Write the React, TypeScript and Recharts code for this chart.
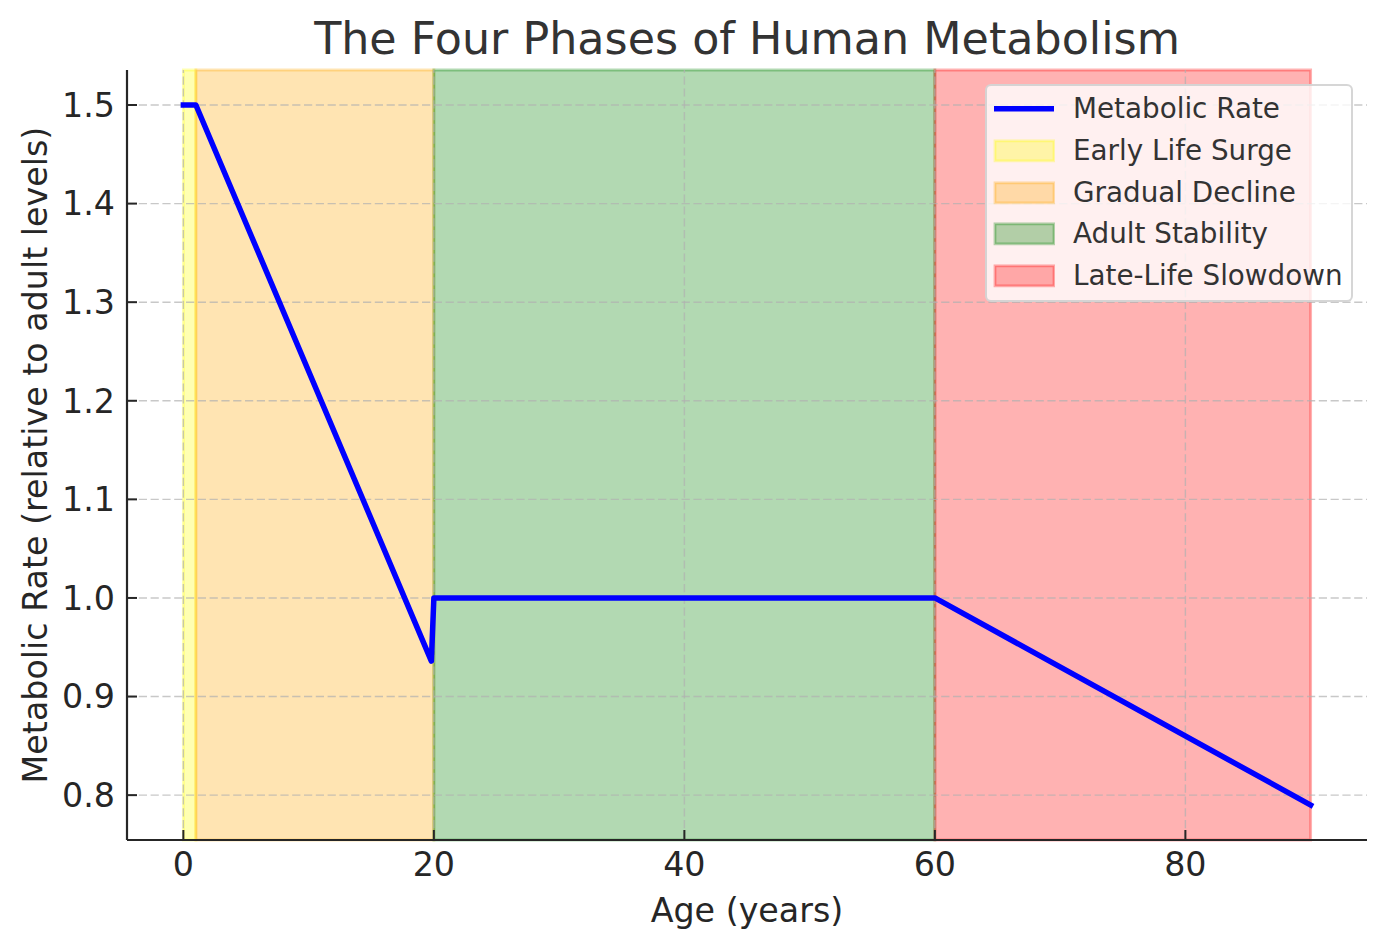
import {
  ComposedChart,
  Line,
  XAxis,
  YAxis,
  ReferenceArea,
  ReferenceLine,
  Legend,
} from 'recharts'

const AGES = [0, 1, 19.8, 20, 60, 90]
const RATES = [1.5, 1.5, 0.936, 1.0, 1.0, 0.79]

const PHASE_NAMES = ['Early Life Surge', 'Gradual Decline', 'Adult Stability', 'Late-Life Slowdown']
const PHASE_START = [0, 1, 20, 60]
const PHASE_END = [1, 20, 60, 90]
const PHASE_COLORS = ['#ffff00', '#ffa500', '#008000', '#ff0000']

const X_TICKS = [0, 20, 40, 60, 80]
const Y_TICKS = [0.8, 0.9, 1.0, 1.1, 1.2, 1.3, 1.4, 1.5]

const data = AGES.map((age, i) => ({ age, rate: RATES[i] }))

const TEXT = '#262626'
const FONT = '"DejaVu Sans", sans-serif'

const gridProps = {
  stroke: '#b0b0b0',
  strokeOpacity: 0.7,
  strokeWidth: 1.4,
  strokeDasharray: '8.2 3.6',
}

function LegendBox() {
  // row i centred 23 + i*41.7 px below the box top
  const rowTop = (i: number) => 23 + i * 41.7 - 20.85
  return (
    <div
      style={{
        position: 'relative',
        width: 368,
        height: 218,
        boxSizing: 'border-box',
        background: 'rgba(255,255,255,0.8)',
        border: '2px solid rgba(204,204,204,0.8)',
        borderRadius: 6,
        fontFamily: FONT,
        fontSize: 27.8,
        color: '#333',
      }}
    >
      <div style={{ position: 'absolute', left: 6, top: rowTop(0), height: 41.7, display: 'flex', alignItems: 'center' }}>
        <svg width={62} height={41.7}>
          <line x1={1} x2={61} y1={20.85} y2={20.85} stroke="#0000ff" strokeWidth={5.5} />
        </svg>
        <span style={{ marginLeft: 18, lineHeight: '41.7px' }}>Metabolic Rate</span>
      </div>
      {PHASE_NAMES.map((name, i) => (
        <div
          key={name}
          style={{ position: 'absolute', left: 6, top: rowTop(i + 1), height: 41.7, display: 'flex', alignItems: 'center' }}
        >
          <svg width={62} height={41.7}>
            <rect
              x={2}
              y={10.85}
              width={59}
              height={20}
              fill={PHASE_COLORS[i]}
              fillOpacity={0.3}
              stroke={PHASE_COLORS[i]}
              strokeOpacity={0.3}
              strokeWidth={2.8}
            />
          </svg>
          <span style={{ marginLeft: 18, lineHeight: '41.7px' }}>{name}</span>
        </div>
      ))}
    </div>
  )
}

export default function App() {
  return (
    <div style={{ fontFamily: FONT, width: 1371, height: 931 }}>
      <ComposedChart
        width={1371}
        height={931}
        data={data}
        margin={{ top: 62, right: 12, bottom: 0, left: 0 }}
      >
        <XAxis
          dataKey="age"
          type="number"
          domain={[-4.5, 94.5]}
          ticks={X_TICKS}
          allowDataOverflow
          height={99}
          tickSize={-10}
          tickMargin={22}
          tick={{ fill: TEXT, fontSize: 33.3 }}
          axisLine={{ stroke: TEXT, strokeWidth: 2.2 }}
          tickLine={{ stroke: TEXT, strokeWidth: 2 }}
        />
        <YAxis
          type="number"
          domain={[0.7545, 1.5355]}
          ticks={Y_TICKS}
          allowDataOverflow
          width={119}
          tickSize={-10}
          tickMargin={22}
          tickFormatter={(v: number) => v.toFixed(1)}
          tick={{ fill: TEXT, fontSize: 33.3 }}
          axisLine={{ stroke: TEXT, strokeWidth: 2.2 }}
          tickLine={{ stroke: TEXT, strokeWidth: 2 }}
        />
        {PHASE_NAMES.map((name, i) => (
          <ReferenceArea
            key={name}
            x1={PHASE_START[i]}
            x2={PHASE_END[i]}
            fill={PHASE_COLORS[i]}
            fillOpacity={0.3}
            stroke={PHASE_COLORS[i]}
            strokeOpacity={0.3}
            strokeWidth={2.8}
          />
        ))}
        {X_TICKS.map((t) => (
          <ReferenceLine key={'x' + t} x={t} {...gridProps} />
        ))}
        {Y_TICKS.map((t) => (
          <ReferenceLine key={'y' + t} y={t} {...gridProps} />
        ))}
        <Line
          type="linear"
          dataKey="rate"
          name="Metabolic Rate"
          stroke="#0000ff"
          strokeWidth={5.5}
          strokeLinejoin="round"
          strokeLinecap="square"
          dot={false}
          activeDot={false}
          isAnimationActive={false}
        />
        <Legend
          layout="vertical"
          align="center"
          verticalAlign="middle"
          wrapperStyle={{ left: 977, top: 76, width: 368, height: 218 }}
          content={() => <LegendBox />}
        />
        <text x={739} y={46} textAnchor="middle" fontSize={44.4} fill="#333">
          The Four Phases of Human Metabolism
        </text>
        <text x={739} y={913.5} textAnchor="middle" fontSize={33.3} fill={TEXT}>
          Age (years)
        </text>
        <text
          x={38.5}
          y={447}
          textAnchor="middle"
          fontSize={33.3}
          fill={TEXT}
          transform="rotate(-90, 38.5, 447)"
        >
          Metabolic Rate (relative to adult levels)
        </text>
      </ComposedChart>
    </div>
  )
}
